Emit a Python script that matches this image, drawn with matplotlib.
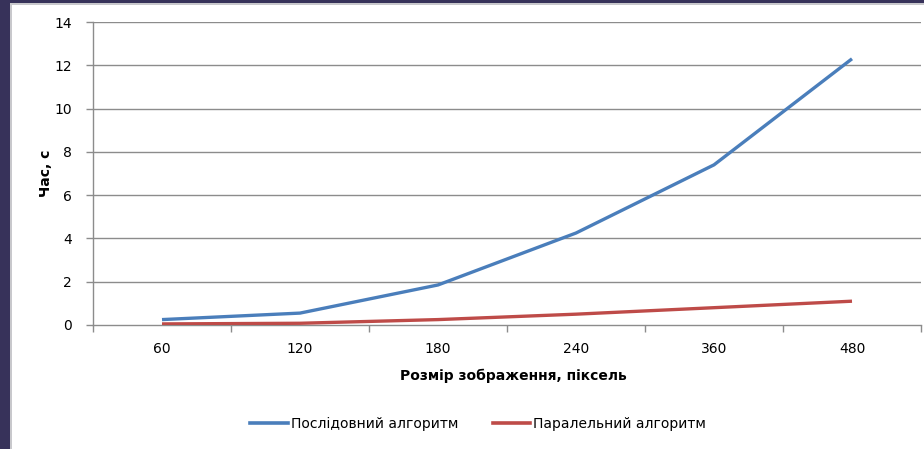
import matplotlib
matplotlib.use("Agg")
import matplotlib.pyplot as plt
from matplotlib.patches import Rectangle
from matplotlib.lines import Line2D

# Image size (pixels) and processing time (seconds)
sizes = ["60", "120", "180", "240", "360", "480"]
sequential = [0.25, 0.55, 1.85, 4.25, 7.4, 12.3]
parallel = [0.05, 0.08, 0.25, 0.5, 0.8, 1.1]

series_names = ["Послідовний алгоритм", "Паралельний алгоритм"]
y_ticks = [0, 2, 4, 6, 8, 10, 12, 14]

W, H = 924, 449
fig = plt.figure(figsize=(W / 100, H / 100), dpi=100)
fig.patch.set_facecolor("white")

# Slide-style frame on the left and top
fig.add_artist(Rectangle((0, 0), 10 / W, 1, transform=fig.transFigure,
                         facecolor="#37325a", edgecolor="none", zorder=0))
fig.add_artist(Rectangle((0, 1 - 3 / H), 1, 3 / H, transform=fig.transFigure,
                         facecolor="#37325a", edgecolor="none", zorder=0))
fig.add_artist(Rectangle((10 / W, 0), 2 / W, 1 - 3 / H, transform=fig.transFigure,
                         facecolor="#c8c8cc", edgecolor="none", zorder=0))
fig.add_artist(Rectangle((10 / W, 1 - 5 / H), 1, 2 / H, transform=fig.transFigure,
                         facecolor="#c8c8cc", edgecolor="none", zorder=0))

left, right, top, bottom = 93, 921, 22, 325
ax = fig.add_axes([left / W, 1 - bottom / H, (right - left) / W, (bottom - top) / H])

x = list(range(len(sizes)))
ax.plot(x, sequential, color="#4a7ebb", lw=2.4, solid_capstyle="butt", zorder=3)
ax.plot(x, parallel, color="#be4b48", lw=2.4, solid_capstyle="butt", zorder=3)

ax.set_xlim(-0.5, len(sizes) - 0.5)
ax.set_ylim(0, 14)
ax.set_yticks(y_ticks)
ax.set_yticklabels([str(v) for v in y_ticks])
ax.set_xticks(x)
ax.set_xticklabels(sizes)
ax.set_xticks([i - 0.5 for i in range(len(sizes) + 1)], minor=True)

grid_col = "#8c8c8c"
for v in y_ticks[1:]:
    ax.axhline(v, color=grid_col, lw=1, zorder=1)

for s in ["top", "right"]:
    ax.spines[s].set_visible(False)
for s in ["left", "bottom"]:
    ax.spines[s].set_color(grid_col)
    ax.spines[s].set_linewidth(1)

fs = 10
ax.tick_params(axis="y", which="major", length=5, color=grid_col, width=1,
               labelsize=fs, pad=10)
ax.tick_params(axis="x", which="major", length=0, labelsize=fs, pad=12)
ax.tick_params(axis="x", which="minor", length=5, color=grid_col, width=1)

ax.set_ylabel("Час, с", fontsize=fs, fontweight="bold")
ax.yaxis.set_label_coords(-(left - 53) / (right - left), 0.5)
ax.set_xlabel("Розмір зображення, піксель", fontsize=fs, fontweight="bold")
ax.xaxis.set_label_coords((513 - left) / (right - left), -(369 - bottom) / (bottom - top))

handles = [Line2D([], [], color="#4a7ebb", lw=2.6),
           Line2D([], [], color="#be4b48", lw=2.6)]
fig.legend(handles, series_names, loc="center", ncol=2, frameon=False,
           bbox_to_anchor=(478 / W, 1 - 424 / H), fontsize=fs,
           handlelength=2.7, handletextpad=0.2, columnspacing=2.5)

fig.savefig("out.png", dpi=100)
